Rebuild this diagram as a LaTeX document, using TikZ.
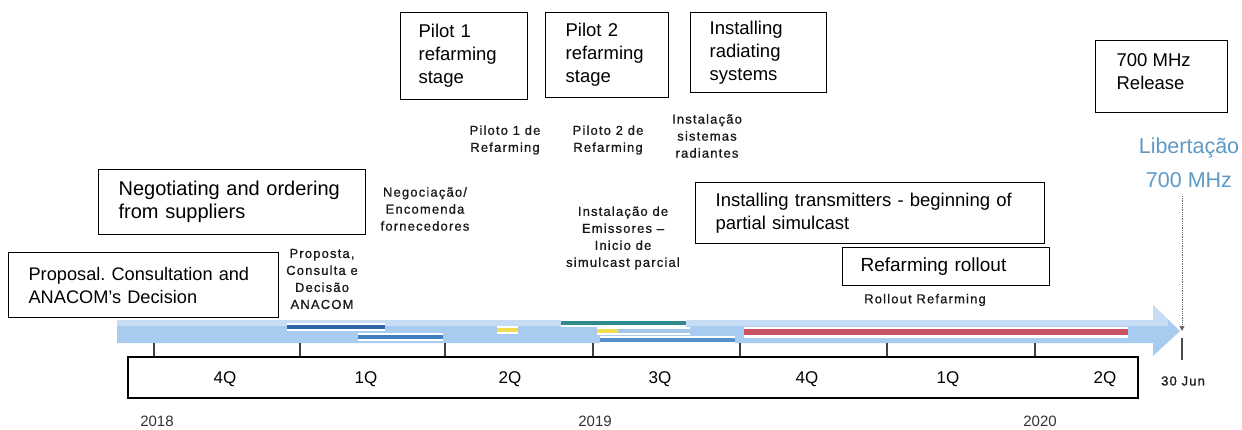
\documentclass[tikz,border=0pt]{standalone}
\usepackage{fontspec}
\setmainfont{Liberation Sans}
\newfontfamily\labfont[LetterSpace=9,FakeBold=0.8]{Liberation Sans}
\usetikzlibrary{arrows.meta}
\frenchspacing
\definecolor{bandblue}{RGB}{168,204,240}
\definecolor{libblue}{RGB}{95,154,198}
\definecolor{barA}{RGB}{47,101,168}
\definecolor{barB}{RGB}{63,127,192}
\definecolor{barC}{RGB}{83,144,204}
\definecolor{barteal}{RGB}{47,138,138}
\definecolor{baryel}{RGB}{240,220,80}
\definecolor{barpale}{RGB}{165,200,234}
\definecolor{barred}{RGB}{198,82,98}
\definecolor{labgray}{RGB}{25,25,25}
\begin{document}
\begin{tikzpicture}[x=1pt,y=-1pt,
  box/.style={draw=black, line width=1.2pt, rectangle, align=left, anchor=north west,
    inner ysep=0pt, font=\fontsize{18.5}{23}\selectfont},
  lab/.style={align=center, text=labgray, font=\labfont\fontsize{13}{17}\selectfont, inner sep=0pt},
  qlab/.style={font=\fontsize{17}{20}\selectfont, inner sep=0pt},
  ylab/.style={font=\fontsize{15}{18}\selectfont, text=black!80, inner sep=0pt},
  tickline/.style={line width=1.2pt, black!75},
  bar/.style={line width=4.5pt},
  halo/.style={line width=8pt, white}
]
\useasboundingbox[fill=white] (0,0) rectangle (1242,429);

% timeline band with arrow head
\fill[bandblue] (117,320) -- (1153,320) -- (1153,305) -- (1180,331) -- (1153,356) -- (1153,343) -- (117,343) -- cycle;
\fill[white, opacity=0.35] (117,320) -- (1153,320) -- (1153,305) -- (1168,320) -- (1168,326) -- (117,326) -- cycle;

% activity bars
\draw[halo] (287,327) -- (385,327);
\draw[bar, barA] (287,327) -- (385,327);
\draw[halo] (358,337) -- (443,337);
\draw[bar, barB] (358,337) -- (443,337);
\draw[halo] (497,330) -- (518,330);
\draw[bar, baryel] (497,330) -- (518,330);
\draw[halo] (561,323) -- (686,323);
\draw[bar, barteal] (561,323) -- (686,323);
\draw[halo] (597,331) -- (690,331);
\draw[bar, barpale] (618,331) -- (690,331);
\draw[bar, baryel] (597,331) -- (618,331);
\draw[halo] (600,340) -- (735,340);
\draw[bar, barC] (600,340) -- (735,340);
\draw[line width=11pt, white] (744,332) -- (1128,332);
\draw[line width=6.5pt, barred] (744,332) -- (1128,332);

% ticks
\foreach \t in {154,300,445,593,740,887,1035}
  \draw[tickline] (\t,343) -- (\t,357);

% quarter box
\draw[line width=1.5pt] (128,357) rectangle (1138,398);
\node[qlab] (q1) at (225,379) {4Q};
\node[qlab] (q2) at (366,379) {1Q};
\node[qlab] (q3) at (510,379) {2Q};
\node[qlab] (q4) at (660,379) {3Q};
\node[qlab] (q5) at (807,379) {4Q};
\node[qlab] (q6) at (948,379) {1Q};
\node[qlab] (q7) at (1105,379) {2Q};

% years
\node[ylab] (y18) at (157,421) {2018};
\node[ylab] (y19) at (595,421) {2019};
\node[ylab] (y20) at (1040,421) {2020};
\node[lab] (jun) at (1183,381) {30 Jun};

% release marker
\node[font=\fontsize{21.5}{34}\selectfont, text=libblue, align=center, inner sep=0pt] (lib) at (1189,163) {Libertação\\700 MHz};
\coordinate (libtop) at (1182,196);
\coordinate (libtip) at (1182,331);
\draw[densely dotted, black!60, line width=0.8pt, -{Triangle[length=5pt,width=5pt]}] (libtop) -- (libtip);
\draw[black!70, line width=1.2pt] (1182,338) -- (1182,360);

% English boxes
\node[box, minimum width=127, minimum height=87, inner xsep=18, text width=91] (p1) at (400,12) {Pilot 1\\refarming\\stage};
\node[box, minimum width=123, minimum height=85, inner xsep=20, text width=83] (p2) at (545,12) {Pilot 2\\refarming\\stage};
\node[box, minimum width=136, minimum height=80, inner xsep=19, text width=98] (rad) at (690,12) {Installing\\radiating\\systems};
\node[box, minimum width=132, minimum height=72, inner xsep=0, align=center] (rel) at (1095,40) {\raisebox{5pt}[\height][\depth]{\parbox[c]{90pt}{700 MHz\\Release}}};
\node[box, minimum width=267, minimum height=65, inner xsep=20, text width=227, font=\fontsize{20}{23}\selectfont] (neg) at (98,169) {\mbox{Negotiating and ordering}\\from suppliers};
\node[box, minimum width=349, minimum height=61, inner xsep=20, text width=309] (trans) at (695,182) {\mbox{Installing transmitters - beginning of}\\partial simulcast};
\node[box, minimum width=207, minimum height=38, inner xsep=18, text width=171, font=\fontsize{19}{23}\selectfont] (roll) at (842,247) {\mbox{Refarming rollout}};
\node[box, minimum width=270, minimum height=65, inner xsep=20, text width=230, font=\fontsize{18.2}{23}\selectfont] (prop) at (8,252) {\mbox{Proposal. Consultation and}\\ANACOM’s Decision};

% Portuguese labels
\node[lab] (pp1) at (505,140) {Piloto 1 de\\Refarming};
\node[lab] (pp2) at (608,140) {Piloto 2 de\\Refarming};
\node[lab] (pinst) at (707,136) {Instalação\\sistemas\\radiantes};
\node[lab] (pneg) at (425,209) {Negociação/\\Encomenda\\fornecedores};
\node[lab] (pemi) at (623,238) {Instalação de\\Emissores –\\Inicio de\\simulcast parcial};
\node[lab] (pprop) at (322,279) {Proposta,\\Consulta e\\Decisão\\ANACOM};
\node[lab] (proll) at (925,300) {Rollout Refarming};
\end{tikzpicture}
\end{document}
